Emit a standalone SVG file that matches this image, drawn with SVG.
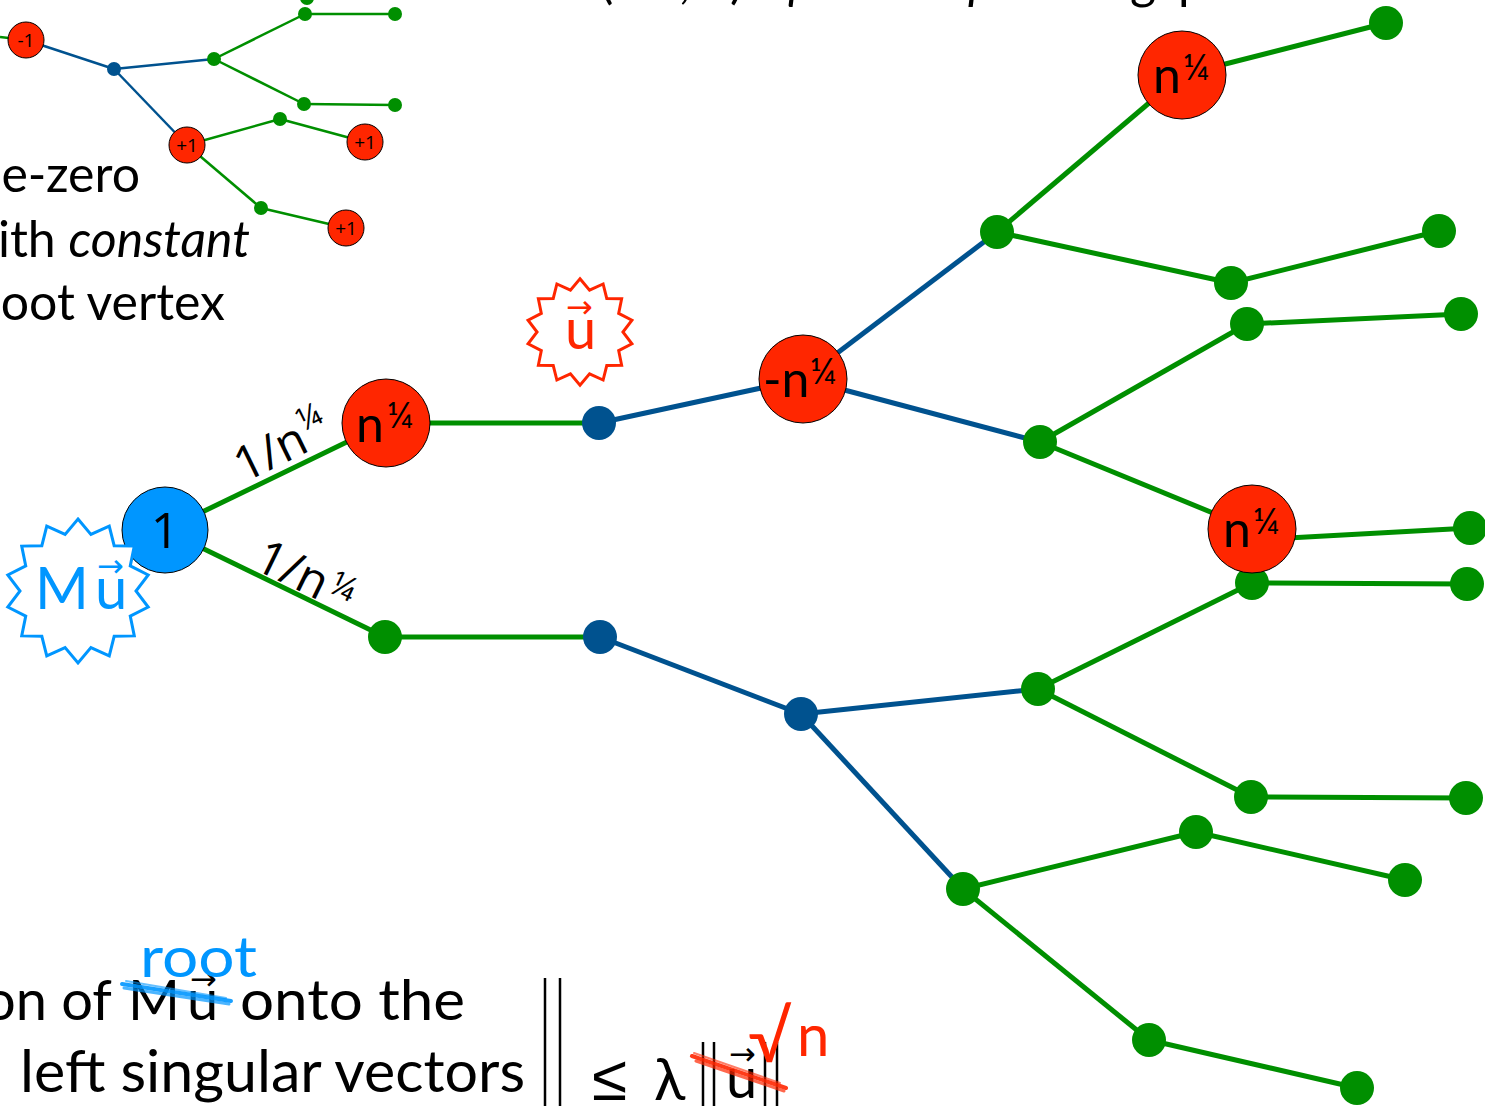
<svg xmlns="http://www.w3.org/2000/svg" width="1485" height="1106" viewBox="0 0 1485 1106">
  <style>
    .txt { font-family: Lato, "Liberation Sans", sans-serif; fill: #000; }
    .lbl { font-family: Lato, "Liberation Sans", sans-serif; fill: #000; }
    .num { font-family: "Open Sans", "Liberation Sans", sans-serif; fill: #000; }
    .arr { font-family: "DejaVu Sans", sans-serif; }
    .g { stroke: #008F00; fill: none; }
    .b { stroke: #00528F; fill: none; }
    .main { stroke-width: 5; }
    .small { stroke-width: 2.5; }
    .gdot { fill: #008F00; }
    .bdot { fill: #00528F; }
    .red { fill: #FF2600; stroke: #000; stroke-width: 1; }
    .root { fill: #0096FF; stroke: #000; stroke-width: 1; }
  </style>
  <defs>
    <!-- 14-point starburst, outer radius 72, inner radius 58 -->
    <polygon id="burst" points="0,-72 12.91,-56.54 31.24,-64.87 36.16,-45.34 56.29,-44.89 52.26,-25.17 70.19,-16.02 58,0 70.19,16.02 52.26,25.17 56.29,44.89 36.16,45.34 31.24,64.87 12.91,56.54 0,72 -12.91,56.54 -31.24,64.87 -36.16,45.34 -56.29,44.89 -52.26,25.17 -70.19,16.02 -58,0 -70.19,-16.02 -52.26,-25.17 -56.29,-44.89 -36.16,-45.34 -31.24,-64.87 -12.91,-56.54"/>
  </defs>
  <rect width="1485" height="1106" fill="#fff"/>

  <!-- heading line, mostly above the top edge -->
  <text class="txt" font-size="50" y="-2">
    <tspan x="600">(</tspan><tspan x="679">,</tspan><tspan x="730">)</tspan><tspan x="788" font-style="italic">μ</tspan><tspan x="968" font-style="italic">p</tspan><tspan x="1130">g</tspan><tspan x="1178">p</tspan>
  </text>

  <!-- connectors -->
  <g id="connectors">
    <!-- small tree -->
    <g class="small">
      <line class="g" x1="0" y1="37" x2="26" y2="40"/>
      <line class="b" x1="26" y1="40" x2="114" y2="69"/>
      <line class="b" x1="114" y1="69" x2="214" y2="59"/>
      <line class="b" x1="114" y1="69" x2="187" y2="145"/>
      <line class="g" x1="214" y1="59" x2="305" y2="14"/>
      <line class="g" x1="305" y1="14" x2="395" y2="14"/>
      <line class="g" x1="214" y1="59" x2="304" y2="104"/>
      <line class="g" x1="304" y1="104" x2="395" y2="105"/>
      <line class="g" x1="187" y1="145" x2="280" y2="119"/>
      <line class="g" x1="280" y1="119" x2="365" y2="142"/>
      <line class="g" x1="187" y1="145" x2="261" y2="208"/>
      <line class="g" x1="261" y1="208" x2="346" y2="228"/>
    </g>
    <!-- main tree -->
    <g class="main">
      <line class="g" x1="165" y1="530" x2="386" y2="423"/>
      <line class="g" x1="165" y1="530" x2="385" y2="637"/>
      <line class="g" x1="386" y1="423" x2="599" y2="423"/>
      <line class="g" x1="385" y1="637" x2="600" y2="637"/>
      <line class="b" x1="599" y1="423" x2="803" y2="379"/>
      <line class="b" x1="803" y1="379" x2="997" y2="232"/>
      <line class="b" x1="803" y1="379" x2="1040" y2="442"/>
      <line class="g" x1="997" y1="232" x2="1182" y2="75"/>
      <line class="g" x1="1182" y1="75" x2="1386" y2="23"/>
      <line class="g" x1="997" y1="232" x2="1231" y2="283"/>
      <line class="g" x1="1231" y1="283" x2="1439" y2="231"/>
      <line class="g" x1="1040" y1="442" x2="1247" y2="324"/>
      <line class="g" x1="1247" y1="324" x2="1461" y2="314"/>
      <line class="g" x1="1040" y1="442" x2="1252" y2="529"/>
      <line class="g" x1="1252" y1="540" x2="1470" y2="528"/>
      <line class="b" x1="600" y1="637" x2="801" y2="714"/>
      <line class="b" x1="801" y1="714" x2="1038" y2="689"/>
      <line class="b" x1="801" y1="714" x2="963" y2="889"/>
      <line class="g" x1="1038" y1="689" x2="1252" y2="583"/>
      <line class="g" x1="1252" y1="583" x2="1467" y2="584"/>
      <line class="g" x1="1038" y1="689" x2="1251" y2="797"/>
      <line class="g" x1="1251" y1="797" x2="1466" y2="798"/>
      <line class="g" x1="963" y1="889" x2="1196" y2="832"/>
      <line class="g" x1="1196" y1="832" x2="1405" y2="880"/>
      <line class="g" x1="963" y1="889" x2="1149" y2="1040"/>
      <line class="g" x1="1149" y1="1040" x2="1357" y2="1088"/>
    </g>
  </g>

  <!-- edge weights -->
  <g id="weight-upper" transform="translate(244,483) rotate(-26)">
    <text class="num" font-size="48">1/n<tspan font-size="32" dx="1" dy="-20">¼</tspan></text>
  </g>
  <g id="weight-lower" transform="translate(252,568) rotate(26)">
    <text class="num" font-size="48">1/n<tspan font-size="34" dx="3" dy="-12">¼</tspan></text>
  </g>

  <!-- small tree nodes -->
  <g id="s-n1"><circle class="red" cx="26" cy="40" r="18"/><text class="num" x="26" y="47" font-size="19" text-anchor="middle">-1</text></g>
  <g id="s-b1"><circle class="bdot" cx="114" cy="69" r="7"/></g>
  <g id="s-g1"><circle class="gdot" cx="214" cy="59" r="7"/></g>
  <g id="s-g2"><circle class="gdot" cx="305" cy="14" r="7"/></g>
  <g id="s-g3"><circle class="gdot" cx="395" cy="14" r="7"/></g>
  <g id="s-g4"><circle class="gdot" cx="304" cy="104" r="7"/></g>
  <g id="s-g5"><circle class="gdot" cx="395" cy="105" r="7"/></g>
  <g id="s-g6"><circle class="gdot" cx="307" cy="-2" r="7"/></g>
  <g id="s-g7"><circle class="gdot" cx="280" cy="119" r="7"/></g>
  <g id="s-g8"><circle class="gdot" cx="261" cy="208" r="7"/></g>
  <g id="s-p1"><circle class="red" cx="187" cy="145" r="18"/><text class="num" x="187" y="152" font-size="19" text-anchor="middle">+1</text></g>
  <g id="s-p2"><circle class="red" cx="365" cy="142" r="18"/><text class="num" x="365" y="149" font-size="19" text-anchor="middle">+1</text></g>
  <g id="s-p3"><circle class="red" cx="346" cy="228" r="18"/><text class="num" x="346" y="235" font-size="19" text-anchor="middle">+1</text></g>

  <!-- main tree: small dots -->
  <g id="m-g1"><circle class="gdot" cx="385" cy="637" r="17"/></g>
  <g id="m-b1"><circle class="bdot" cx="599" cy="423" r="17"/></g>
  <g id="m-b2"><circle class="bdot" cx="600" cy="637" r="17"/></g>
  <g id="m-b3"><circle class="bdot" cx="801" cy="714" r="17"/></g>
  <g id="m-g2"><circle class="gdot" cx="997" cy="232" r="17"/></g>
  <g id="m-g3"><circle class="gdot" cx="1040" cy="442" r="17"/></g>
  <g id="m-g4"><circle class="gdot" cx="1386" cy="23" r="17"/></g>
  <g id="m-g5"><circle class="gdot" cx="1231" cy="283" r="17"/></g>
  <g id="m-g6"><circle class="gdot" cx="1439" cy="231" r="17"/></g>
  <g id="m-g7"><circle class="gdot" cx="1247" cy="324" r="17"/></g>
  <g id="m-g8"><circle class="gdot" cx="1461" cy="314" r="17"/></g>
  <g id="m-g9"><circle class="gdot" cx="1470" cy="528" r="17"/></g>
  <g id="m-g10"><circle class="gdot" cx="1038" cy="689" r="17"/></g>
  <g id="m-g11"><circle class="gdot" cx="1252" cy="583" r="17"/></g>
  <g id="m-g12"><circle class="gdot" cx="1467" cy="584" r="17"/></g>
  <g id="m-g13"><circle class="gdot" cx="1251" cy="797" r="17"/></g>
  <g id="m-g14"><circle class="gdot" cx="1466" cy="798" r="17"/></g>
  <g id="m-g15"><circle class="gdot" cx="963" cy="889" r="17"/></g>
  <g id="m-g16"><circle class="gdot" cx="1196" cy="832" r="17"/></g>
  <g id="m-g17"><circle class="gdot" cx="1405" cy="880" r="17"/></g>
  <g id="m-g18"><circle class="gdot" cx="1149" cy="1040" r="17"/></g>
  <g id="m-g19"><circle class="gdot" cx="1357" cy="1088" r="17"/></g>

  <!-- main tree: labelled nodes -->
  <g id="m-root"><circle class="root" cx="165" cy="530" r="43"/><text class="num" x="165" y="548" font-size="50" text-anchor="middle">1</text></g>
  <g id="m-r1"><circle class="red" cx="386" cy="423" r="44"/><text class="lbl" font-size="50"><tspan x="356" y="442">n</tspan><tspan x="387" y="428" font-size="36">¼</tspan></text></g>
  <g id="m-r2"><circle class="red" cx="803" cy="379" r="44"/><text class="lbl" font-size="50"><tspan x="763" y="397">-n</tspan><tspan x="810" y="384" font-size="36">¼</tspan></text></g>
  <g id="m-r3"><circle class="red" cx="1182" cy="75" r="44"/><text class="lbl" font-size="50"><tspan x="1153" y="93">n</tspan><tspan x="1183" y="80" font-size="36">¼</tspan></text></g>
  <g id="m-r4"><circle class="red" cx="1252" cy="529" r="44"/><text class="lbl" font-size="50"><tspan x="1223" y="547">n</tspan><tspan x="1253" y="534" font-size="36">¼</tspan></text></g>

  <!-- starburst callouts -->
  <g id="burst-Mu">
    <use href="#burst" transform="translate(78,591)" fill="#fff" stroke="#0096FF" stroke-width="3"/>
    <text class="txt" x="35" y="609" font-size="58" style="fill:#0096FF">M</text>
    <text class="txt" x="95" y="609" font-size="58" style="fill:#0096FF">u</text>
    <text class="arr" x="97" y="577" font-size="32" fill="#0096FF">→</text>
  </g>
  <g id="burst-u">
    <use href="#burst" transform="translate(580,332) scale(0.74)" fill="#fff" stroke="#FF2600" stroke-width="4"/>
    <text class="txt" x="565" y="349" font-size="56" style="fill:#FF2600">u</text>
    <text class="arr" x="566" y="318" font-size="32" fill="#FF2600">→</text>
  </g>

  <!-- left text -->
  <text class="txt" x="140" y="192" font-size="50" text-anchor="end">e-zero</text>
  <text class="txt" x="250" y="257" font-size="50" text-anchor="end">ith <tspan font-style="italic">constant</tspan></text>
  <text class="txt" x="225" y="320" font-size="50" text-anchor="end">oot vertex</text>

  <!-- bottom formula -->
  <text class="txt" x="112" y="1020" font-size="56" text-anchor="end">on of</text>
  <text class="txt" x="128" y="1020" font-size="56">M</text>
  <text class="txt" x="187" y="1020" font-size="56">u</text>
  <text class="arr" x="190" y="990" font-size="32">→</text>
  <text class="txt" x="240" y="1020" font-size="56" textLength="225" lengthAdjust="spacingAndGlyphs">onto the</text>
  <text class="txt" x="20" y="1092" font-size="58" textLength="505" lengthAdjust="spacingAndGlyphs">left singular vectors</text>
  <g stroke="#0096FF" stroke-linecap="round" fill="none">
    <path d="M122,984 L231,1001" stroke-width="4" opacity="0.9"/>
    <path d="M124,988 L229,1004" stroke-width="3" opacity="0.7"/>
    <path d="M126,981 L226,998" stroke-width="2" opacity="0.6"/>
  </g>
  <text class="txt" x="140" y="977" font-size="56" textLength="117" lengthAdjust="spacingAndGlyphs" style="fill:#0096FF">root</text>

  <g stroke="#000" stroke-width="2.5">
    <line x1="545" y1="978" x2="545" y2="1106"/>
    <line x1="560" y1="978" x2="560" y2="1106"/>
    <line x1="703" y1="1042" x2="703" y2="1106"/>
    <line x1="714" y1="1042" x2="714" y2="1106"/>
    <line x1="765" y1="1042" x2="765" y2="1106"/>
    <line x1="777" y1="1042" x2="777" y2="1106"/>
  </g>
  <text x="592" y="1100" font-size="64" font-family="'Liberation Sans', sans-serif">≤</text>
  <text class="txt" x="654" y="1100" font-size="58">λ</text>
  <text class="txt" x="726" y="1098" font-size="56">u</text>
  <text class="arr" x="729" y="1065" font-size="32">→</text>
  <g stroke="#FF2600" stroke-linecap="round" fill="none">
    <path d="M692,1056 L786,1088" stroke-width="4" opacity="0.9"/>
    <path d="M696,1061 L784,1091" stroke-width="3" opacity="0.7"/>
    <path d="M694,1053 L780,1083" stroke-width="2" opacity="0.6"/>
  </g>
  <text class="txt" x="748" y="1062" font-size="70" style="fill:#FF2600">√</text>
  <text class="txt" x="797" y="1056" font-size="58" style="fill:#FF2600">n</text>
</svg>
